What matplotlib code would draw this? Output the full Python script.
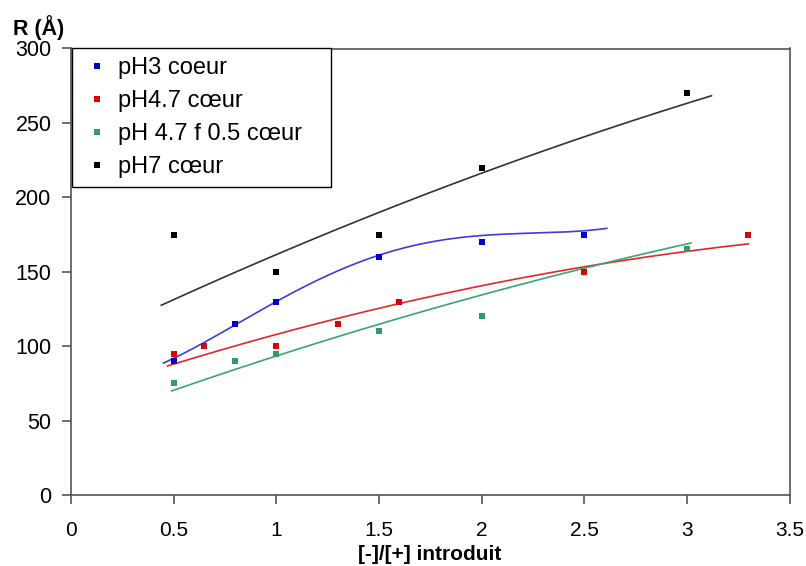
import numpy as np
import matplotlib
matplotlib.use("Agg")
import matplotlib.pyplot as plt
from matplotlib.ticker import FuncFormatter

plt.rcParams['font.family'] = ['Liberation Sans', 'DejaVu Sans']

# ---- data ----
labels = ["pH3 coeur", "pH4.7 cœur", "pH 4.7 f 0.5 cœur", "pH7 cœur"]

ph3_x = [0.5, 0.8, 1.0, 1.5, 2.0, 2.5]
ph3_y = [90, 115, 130, 160, 170, 175]

ph47_x = [0.5, 0.65, 1.0, 1.3, 1.6, 2.5, 3.3]
ph47_y = [95, 100, 100, 115, 130, 150, 175]

ph47f_x = [0.5, 0.8, 1.0, 1.5, 2.0, 3.0]
ph47f_y = [75, 90, 95, 110, 120, 165]

ph7_x = [0.5, 1.0, 1.5, 2.0, 3.0]
ph7_y = [175, 150, 175, 220, 270]

# trend lines, values
trend_ph3_x = [0.45, 0.80, 0.97, 1.26, 1.456, 1.62, 1.78, 2.0, 2.27, 2.495, 2.61]
trend_ph3_y = [88.4, 115.2, 127.5, 146.5, 159.7, 166.5, 171.4, 173.6, 175.9, 177.6, 179.2]

trend_ph47_x = [0.47, 0.97, 1.26, 1.85, 2.50, 3.30]
trend_ph47_y = [85.4, 107.4, 119.3, 136.2, 151.0, 169.8]

trend_ph47f_x = [0.49, 0.97, 1.26, 1.85, 2.38, 3.02]
trend_ph47f_y = [69.8, 92.4, 104.5, 128.6, 148.3, 169.3]

trend_ph7_x = [0.44, 0.71, 1.26, 1.80, 1.85, 2.29, 2.61, 3.12]
trend_ph7_y = [127.0, 144.3, 177.4, 206.3, 208.7, 229.3, 245.4, 268.9]

x_ticks = [0, 0.5, 1, 1.5, 2, 2.5, 3, 3.5]
y_ticks = [0, 50, 100, 150, 200, 250, 300]

# ---- styles ----
marker_colors = ['#0000CC', '#DD0000', '#339966', '#000000']
line_colors = ['#3C3CE0', '#E02828', '#3FA373', '#333333']
trend_deg = [4, 2, 2, 2]

fig = plt.figure(figsize=(8.06, 5.66), dpi=100)
W, H = 806, 566
ax = fig.add_axes([71 / W, 1 - 495 / H, (789.5 - 71) / W, (495 - 48.5) / H])

series = [(ph3_x, ph3_y), (ph47_x, ph47_y), (ph47f_x, ph47f_y), (ph7_x, ph7_y)]
trends = [(trend_ph3_x, trend_ph3_y), (trend_ph47_x, trend_ph47_y),
          (trend_ph47f_x, trend_ph47f_y), (trend_ph7_x, trend_ph7_y)]

for (tx, ty), c, d in zip(trends, line_colors, trend_deg):
    coef = np.polyfit(tx, ty, d)
    xx = np.linspace(min(tx), max(tx), 300)
    ax.plot(xx, np.polyval(coef, xx), color=c, lw=1.2, zorder=2)

for (sx, sy), c, lab in zip(series, marker_colors, labels):
    ax.plot(sx, sy, linestyle='none', marker='s', markersize=4.2,
            markeredgewidth=0, color=c, label=lab, zorder=3)

ax.set_xlim(0, 3.5)
ax.set_ylim(0, 300)
ax.set_xticks(x_ticks)
ax.set_yticks(y_ticks)
ax.xaxis.set_major_formatter(FuncFormatter(lambda v, p: f"{v:g}"))
ax.yaxis.set_major_formatter(FuncFormatter(lambda v, p: f"{v:g}"))

spine_col = '#555555'
for s in ax.spines.values():
    s.set_color(spine_col)
    s.set_linewidth(1.2)
ax.tick_params(axis='both', direction='out', length=6.5, width=1.2, color=spine_col,
               labelsize=15.5, labelcolor='black')
ax.tick_params(axis='x', pad=12, labelsize=15)
ax.tick_params(axis='y', pad=7.5)

fig.text(13 / W, 1 - 28 / H, "R (Å)", fontsize=15.5, fontweight='bold',
         ha='left', va='center')
fig.text(430 / W, 1 - 554 / H, "[-]/[+] introduit", fontsize=15, fontweight='bold',
         ha='center', va='center')

leg = ax.legend(loc='upper left',
                bbox_to_anchor=(72 / W, 1 - 48.5 / H, (331 - 72) / W, 0.001),
                bbox_transform=fig.transFigure, mode='expand', borderaxespad=0,
                fontsize=17, frameon=True, fancybox=False, framealpha=1,
                edgecolor='black', handlelength=1.3, handletextpad=0.25,
                labelspacing=0.46, borderpad=0.4, markerscale=1.0)
leg.get_frame().set_linewidth(1.0)

fig.savefig("out.png", dpi=100)
